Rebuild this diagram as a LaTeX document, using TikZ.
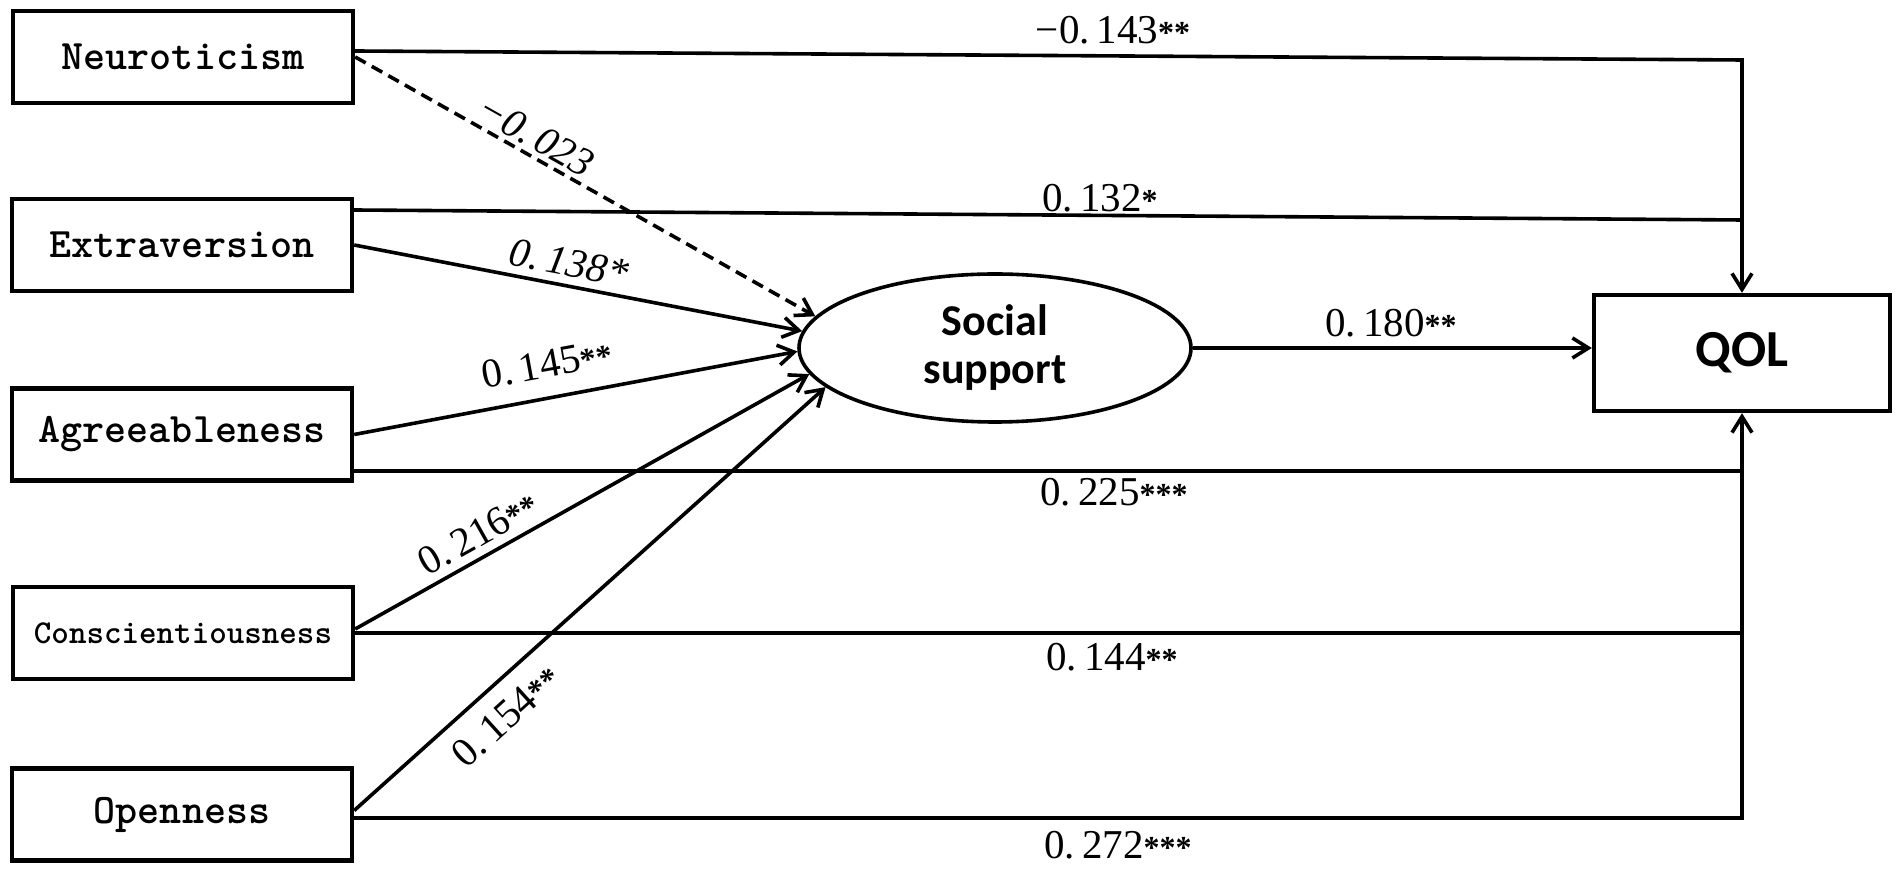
\documentclass[tikz,border=0pt]{standalone}
\usepackage{fontspec}
\setmainfont{Liberation Serif}
\newfontfamily\sansb{Carlito}
\usetikzlibrary{arrows.meta,shapes.geometric}
\newcommand\stars[1]{{\fontsize{16}{16}\selectfont\bfseries #1}}
\begin{document}
\begin{tikzpicture}[x=0.5pt,y=-0.5pt,
  vbox/.style={draw, line width=2.2pt, minimum width=170pt, minimum height=46pt, inner sep=0pt,
    font=\ttfamily\bfseries\fontsize{21}{21}\selectfont},
  lab/.style={font=\fontsize{20.5}{20.5}\selectfont, inner sep=0pt},
  ln/.style={line width=1.8pt},
  arr/.style={line width=1.8pt, -{Straight Barb[length=8pt,width=10pt,line width=1.8pt]}},
  dsh/.style={dash pattern=on 6pt off 3.5pt}
]
\path[use as bounding box, fill=white] (0,0) rectangle (1901,870);

% predictor boxes
\node[vbox] (N) at (183,57) {Neuroticism};
\node[vbox] (E) at (182,245) {Extraversion};
\node[vbox] (A) at (182,434.5) {Agreeableness};
\node[vbox, font=\ttfamily\bfseries\fontsize{16.7}{17}\selectfont] (C) at (183,633) {Conscientiousness};
\node[vbox] (O) at (182,814.5) {Openness};

% mediator and outcome
\node[draw, ellipse, line width=1.8pt, minimum width=196pt, minimum height=74pt, inner sep=0pt,
  align=center, font=\sansb\bfseries\fontsize{22}{24}\selectfont] (S) at (995,348) {Social\\support};
\node[draw, line width=2.2pt, minimum width=148pt, minimum height=58pt, inner sep=0pt,
  font=\sansb\bfseries\fontsize{26}{26}\selectfont] (Q) at (1742,353) {QOL};

% junction points on the right
\coordinate (kN) at (1742,60);
\coordinate (kE) at (1742,220);
\coordinate (kA) at (1742,471);
\coordinate (kC) at (1742,633);
\coordinate (kO) at (1742,818);

% direct paths to QOL
\draw[arr] ([yshift=3pt]N.east) -- (kN) -- (Q.north);
\draw[ln] ([yshift=17.5pt]E.east) -- (kE);
\draw[ln] ([yshift=-18.25pt]A.east) -- (kA);
\draw[ln] (C.east) -- (kC);
\draw[arr] ([yshift=-1.75pt]O.east) -- (kO) -- (Q.south);

% paths to social support
\draw[arr, dsh] (N.east) -- (S.170);
\draw[arr] (E.east) -- (S.175.5);
\draw[arr] (A.east) -- (S.181);
\draw[arr] ([yshift=2pt]C.east) -- (S.188);
\draw[arr] ([yshift=2pt]O.east) -- (S.193);
\draw[arr] (S.east) -- (S.east -| Q.west);

% labels
\node[lab, rotate=-29.3] (l023) at (536,136) {\textit{−0.\,023}};
\node[lab, rotate=-10.9] (l138) at (569,263) {\textit{0.\,138*}};
\node[lab, rotate=10.4] (l145) at (547,364) {0.\,145\stars{**}};
\node[lab, rotate=29.4] (l216) at (478,533) {0.\,216\stars{**}};
\node[lab, rotate=42.2] (l154) at (506,716) {0.\,154\stars{**}};
\node[lab] (l143) at (1113,30) {−0.\,143\stars{**}};
\node[lab] (l132) at (1100,198) {0.\,132\stars{*}};
\node[lab] (l180) at (1391,323) {0.\,180\stars{**}};
\node[lab] (l225) at (1114,492) {0.\,225\stars{***}};
\node[lab] (l144) at (1112,657) {0.\,144\stars{**}};
\node[lab] (l272) at (1118,845) {0.\,272\stars{***}};
\end{tikzpicture}
\end{document}
